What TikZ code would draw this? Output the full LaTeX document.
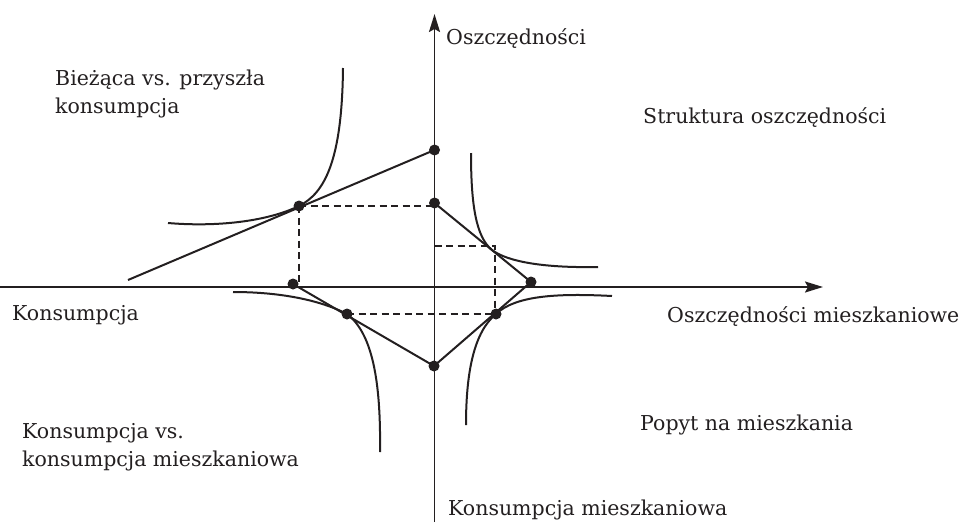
\documentclass[tikz,border=0pt]{standalone}
\usepackage{fontspec}
\setmainfont{DejaVu Serif}
\usetikzlibrary{arrows.meta}
\definecolor{ink}{HTML}{231F20}
\tikzset{
  axis/.style={line width=1.9pt, draw=ink, -{Stealth[length=18pt,width=11pt,inset=3pt]}},
  curve/.style={line width=2pt, draw=ink},
  budget/.style={line width=2pt, draw=ink},
  guide/.style={line width=1.5pt, draw=ink, dash pattern=on 7pt off 4.5pt},
  dot/.style={circle, fill=ink, inner sep=0pt, minimum size=11pt},
  lbl/.style={anchor=base west, inner sep=0pt, text=ink, font=\fontsize{20.5}{28}\selectfont, align=left}
}
\begin{document}
\begin{tikzpicture}[x=1pt,y=-1pt]
\useasboundingbox (0,0) rectangle (960,522);
% axes
\coordinate (xl) at (0,287);
\coordinate (xr) at (823,287);
\coordinate (yb) at (434.5,522);
\coordinate (yt) at (434.5,14);
\draw[axis] (xl) -- (xr);
\draw[axis] (yb) -- (yt);
% points
\node[dot] (A) at (434.5,150) {};
\node[dot] (B) at (434.5,203) {};
\node[dot] (T1) at (299,206) {};
\node[dot] (C) at (293,284) {};
\node[dot] (D) at (531,282) {};
\node[dot] (T3) at (496,314) {};
\node[dot] (T4) at (347,314) {};
\node[dot] (E) at (434,366) {};
\coordinate (L) at (128,280);
\coordinate (T2) at (492,250);
\coordinate (K) at (495,246);
\coordinate (Ky) at (434.5,246);
% budget lines
\draw[budget] (L) -- (A.center);
\draw[budget] (B.center) -- (D.center);
\draw[budget] (D.center) -- (E.center);
\draw[budget] (C.center) -- (E.center);
% guides
\draw[guide] (T1.center) -- (T1.center -| B.center);
\draw[guide] (T1.center) -- (T1.center |- C.center);
\draw[guide] (Ky) -- (K) -- (K |- T3.center);
\draw[guide] (T4.center) -- (T3.center);
% indifference curves
\draw[curve] (168,223) .. controls (215,227) and (266,222) .. (T1.center)
  .. controls (325,193) and (342,160) .. (343,68);
\draw[curve] (471,153) .. controls (471,205) and (476,237) .. (T2)
  .. controls (508,262) and (545,268) .. (598,267);
\draw[curve] (233,292) .. controls (280,292) and (320,300) .. (T4.center)
  .. controls (372,333) and (381,380) .. (380,452);
\draw[curve] (466,425) .. controls (466,372) and (474,332) .. (T3.center)
  .. controls (515,296) and (555,293) .. (612,296);
% labels
\node[lbl] (l1) at (446,44) {Oszczędności};
\node[lbl] (l2) at (55,113) {Bieżąca vs. przyszła\\konsumpcja};
\node[lbl] (l3) at (643,123) {Struktura oszczędności};
\node[lbl] (l4) at (12,320) {Konsumpcja};
\node[lbl] (l5) at (667,322) {Oszczędności mieszkaniowe};
\node[lbl] (l6) at (22,466) {Konsumpcja vs.\\konsumpcja mieszkaniowa};
\node[lbl] (l7) at (640,430) {Popyt na mieszkania};
\node[lbl] (l8) at (448,515) {Konsumpcja mieszkaniowa};
\end{tikzpicture}
\end{document}
